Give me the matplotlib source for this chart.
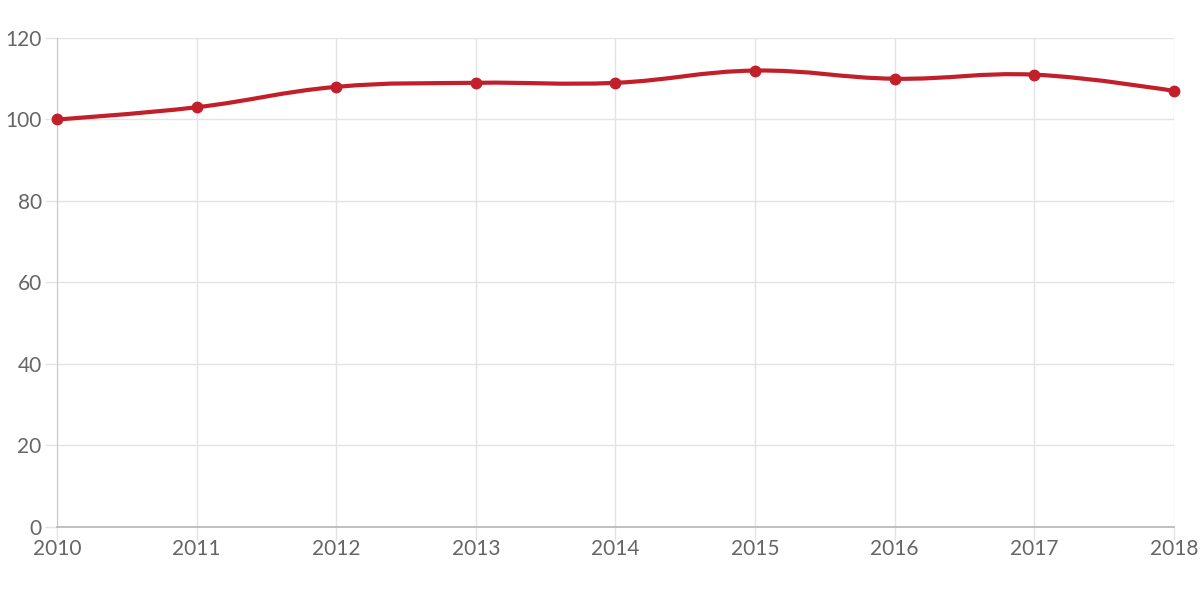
import numpy as np
import matplotlib.pyplot as plt
from matplotlib.path import Path
from matplotlib.patches import PathPatch

years = [2010, 2011, 2012, 2013, 2014, 2015, 2016, 2017, 2018]
values = [100, 103, 108, 109, 109, 112, 110, 111, 107]
y_ticks = [0, 20, 40, 60, 80, 100, 120]

line_color = '#c21f2a'
grid_color = '#e3e3e3'
text_color = '#666666'

plt.rcParams['font.family'] = ['Lato', 'DejaVu Sans']

fig = plt.figure(figsize=(12, 6), dpi=100)
ax = fig.add_axes([0.0475, 0.1217, 0.9308, 0.815])


def smooth_path(xs, ys, tension=0.2):
    # bezier segments through the points, chart.js style
    xs = np.asarray(xs, float)
    ys = np.asarray(ys, float)
    n = len(xs)
    verts = [(xs[0], ys[0])]
    codes = [Path.MOVETO]
    for i in range(n - 1):
        p0 = (xs[max(i - 1, 0)], ys[max(i - 1, 0)])
        p1 = (xs[i], ys[i])
        p2 = (xs[i + 1], ys[i + 1])
        p3 = (xs[min(i + 2, n - 1)], ys[min(i + 2, n - 1)])
        c1 = (p1[0] + tension * (p2[0] - p0[0]), p1[1] + tension * (p2[1] - p0[1]))
        c2 = (p2[0] - tension * (p3[0] - p1[0]), p2[1] - tension * (p3[1] - p1[1]))
        if i == 0:
            c1 = p1
        if i == n - 2:
            c2 = p2
        verts += [c1, c2, p2]
        codes += [Path.CURVE4] * 3
    return Path(verts, codes)


ax.add_patch(PathPatch(smooth_path(years, values), facecolor='none',
                       edgecolor=line_color, lw=3, zorder=3, capstyle='round',
                       clip_on=False))
ax.plot(years, values, 'o', color=line_color, markersize=7.5, zorder=4, clip_on=False)

ax.set_xlim(years[0], years[-1])
ax.set_ylim(0, 120)
ax.set_xticks(years)
ax.set_yticks(y_ticks)
ax.grid(True, color=grid_color, lw=1)
ax.set_axisbelow(True)

for s in ['top', 'right']:
    ax.spines[s].set_visible(False)
ax.spines['left'].set_color('#c8c8c8')
ax.spines['bottom'].set_color('#b5b5b5')
ax.spines['bottom'].set_linewidth(1.2)

ax.tick_params(axis='both', colors=grid_color, length=9, width=1,
               labelcolor=text_color, labelsize=15)
ax.tick_params(axis='y', pad=2)
ax.tick_params(axis='x', pad=0)

fig.savefig('out.png', dpi=100)
